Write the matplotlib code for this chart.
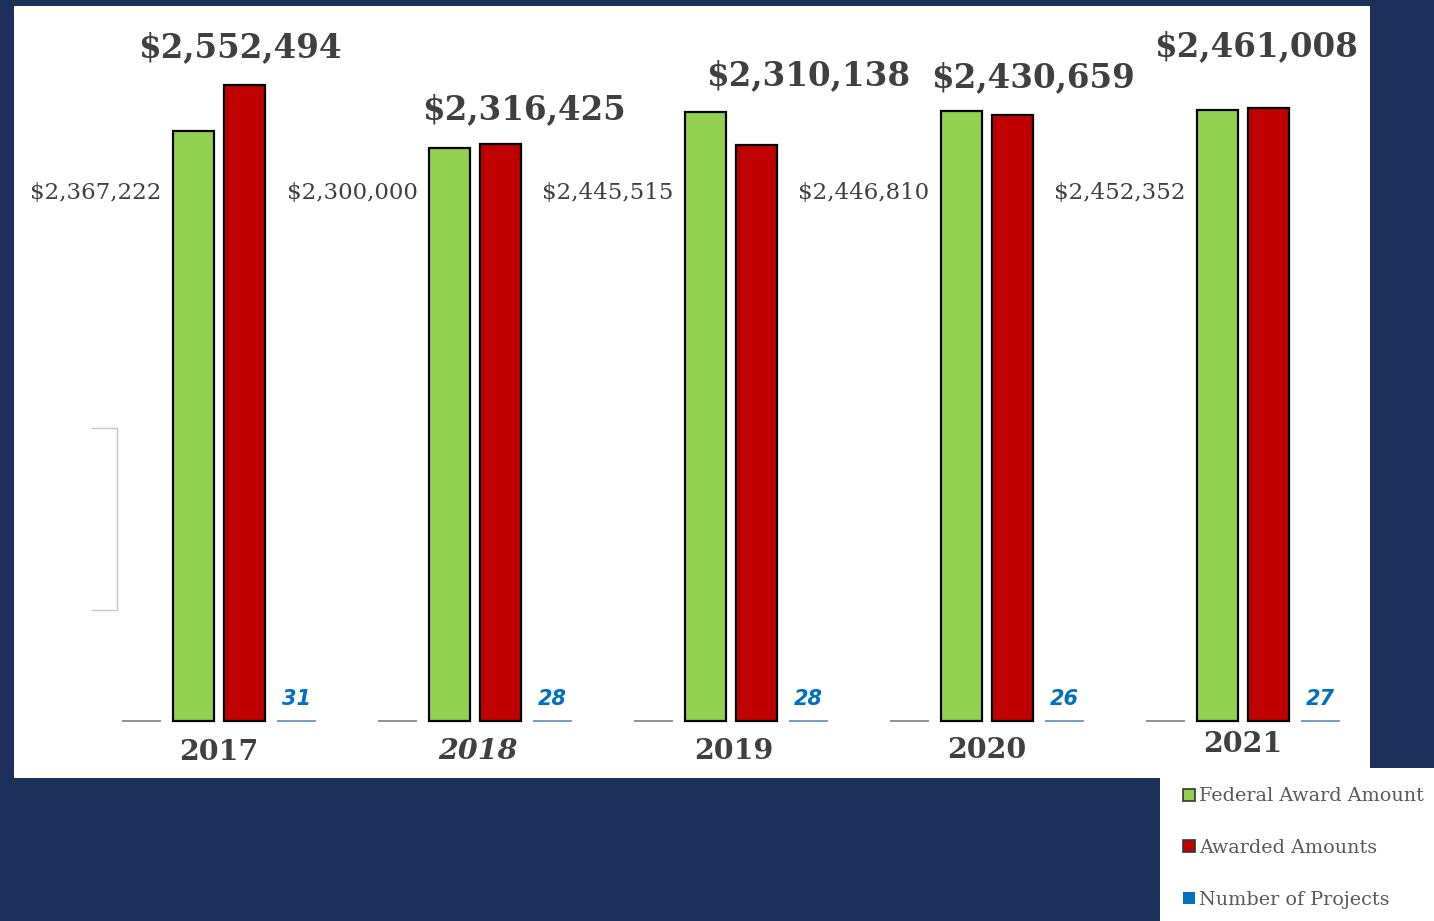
"""Federal award vs awarded amounts by year, with project counts."""

import matplotlib.pyplot as plt
from matplotlib.lines import Line2D
from matplotlib.patches import Rectangle

YEARS = ["2017", "2018", "2019", "2020", "2021"]
FEDERAL_AWARD = [2367222, 2300000, 2445515, 2446810, 2452352]
AWARDED = [2552494, 2316425, 2310138, 2430659, 2461008]
PROJECTS = [31, 28, 28, 26, 27]
EMPTY_SERIES = [0, 0, 0, 0, 0]

# label placement (layout only)
RED_LABEL_DX = [0.08, 0.19, 0.30, 0.18, 0.05]
RED_LABEL_Y = [2700000, 2452000, 2588000, 2580000, 2705000]
YEAR_LABEL_DX = [0.0, 0.01, 0.01, 0.0, 0.0]
YEAR_LABEL_Y = [-128000, -124000, -124000, -120000, -96000]
YEAR_ITALIC = [False, True, False, False, False]

NAVY = "#1d2f5b"
GREEN = "#92d050"
RED = "#c00000"
BLUE = "#0070c0"
TEXT = "#404040"

W, H = 1434, 921


def fx(px):
    return px / W


def fy(py):
    return 1 - py / H


def main():
    fig = plt.figure(figsize=(W / 100, H / 100), dpi=100)
    fig.patch.set_facecolor(NAVY)

    # white chart panel and legend box
    fig.patches.append(Rectangle((fx(14), fy(778)), fx(1370) - fx(14), fy(6) - fy(778),
                                 transform=fig.transFigure, facecolor="white",
                                 edgecolor="none", zorder=-2))
    fig.patches.append(Rectangle((fx(1160), 0), 1 - fx(1160), fy(768),
                                 transform=fig.transFigure, facecolor="white",
                                 edgecolor="none", zorder=-2))

    ax = fig.add_axes([fx(14), fy(778), fx(1370) - fx(14), fy(6) - fy(778)])
    ax.set_facecolor("none")
    for s in ax.spines.values():
        s.set_visible(False)
    ax.set_xticks([])
    ax.set_yticks([])

    x = list(range(len(YEARS)))
    step = 0.202
    bw = 0.16
    ax.bar([i - 1.5 * step for i in x], EMPTY_SERIES, width=0.15,
           color="#7f7f7f", edgecolor="#7f7f7f", linewidth=1.2)
    ax.bar([i - 0.5 * step for i in x], FEDERAL_AWARD, width=bw,
           color=GREEN, edgecolor="black", linewidth=1.6)
    ax.bar([i + 0.5 * step for i in x], AWARDED, width=bw,
           color=RED, edgecolor="black", linewidth=1.6)
    ax.bar([i + 1.5 * step for i in x], PROJECTS, width=0.15,
           color=BLUE, edgecolor="#5b8fc4", linewidth=1.2)

    for i in x:
        ax.text(i + RED_LABEL_DX[i], RED_LABEL_Y[i], f"${AWARDED[i]:,}",
                ha="center", va="center", fontsize=23.5, fontweight="heavy",
                family="DejaVu Serif", color=TEXT)
        ax.text(i - 0.225, 2119000, f"${FEDERAL_AWARD[i]:,}",
                ha="right", va="center", fontsize=16.5,
                family="DejaVu Serif", color=TEXT)
        ax.text(i + 1.5 * step, 88000, str(PROJECTS[i]),
                ha="center", va="center", fontsize=15, fontweight="bold",
                style="italic", family="DejaVu Sans", color=BLUE)
        ax.text(i + YEAR_LABEL_DX[i], YEAR_LABEL_Y[i], YEARS[i],
                ha="center", va="center", fontsize=20.5, fontweight="heavy",
                style="italic" if YEAR_ITALIC[i] else "normal",
                family="DejaVu Serif", color=TEXT)

    ax.set_xlim(-0.8008, 4.496)
    ax.set_ylim(-228700, 2869000)

    # faint bracket artifact left of the first group
    fig.lines.append(Line2D([fx(92), fx(117), fx(117), fx(92)],
                            [fy(428), fy(428), fy(610), fy(610)],
                            transform=fig.transFigure, color="#c8c8c8", lw=1))

    handles = [
        Rectangle((0, 0), 1, 1, facecolor=GREEN, edgecolor="#333333", linewidth=1.2),
        Rectangle((0, 0), 1, 1, facecolor=RED, edgecolor="#333333", linewidth=1.2),
        Rectangle((0, 0), 1, 1, facecolor=BLUE, edgecolor="none"),
    ]
    labels = ["Federal Award Amount", "Awarded Amounts", "Number of Projects"]
    leg = fig.legend(handles, labels, loc="upper left",
                     bbox_to_anchor=(fx(1170), fy(774)), frameon=False,
                     prop={"family": "DejaVu Serif", "size": 13.8},
                     handlelength=0.6, handleheight=0.6, handletextpad=0.2,
                     labelspacing=1.75, borderpad=0.2)
    for t in leg.get_texts():
        t.set_color("#595959")

    fig.savefig("out.png", dpi=100, facecolor=NAVY)


if __name__ == "__main__":
    main()
